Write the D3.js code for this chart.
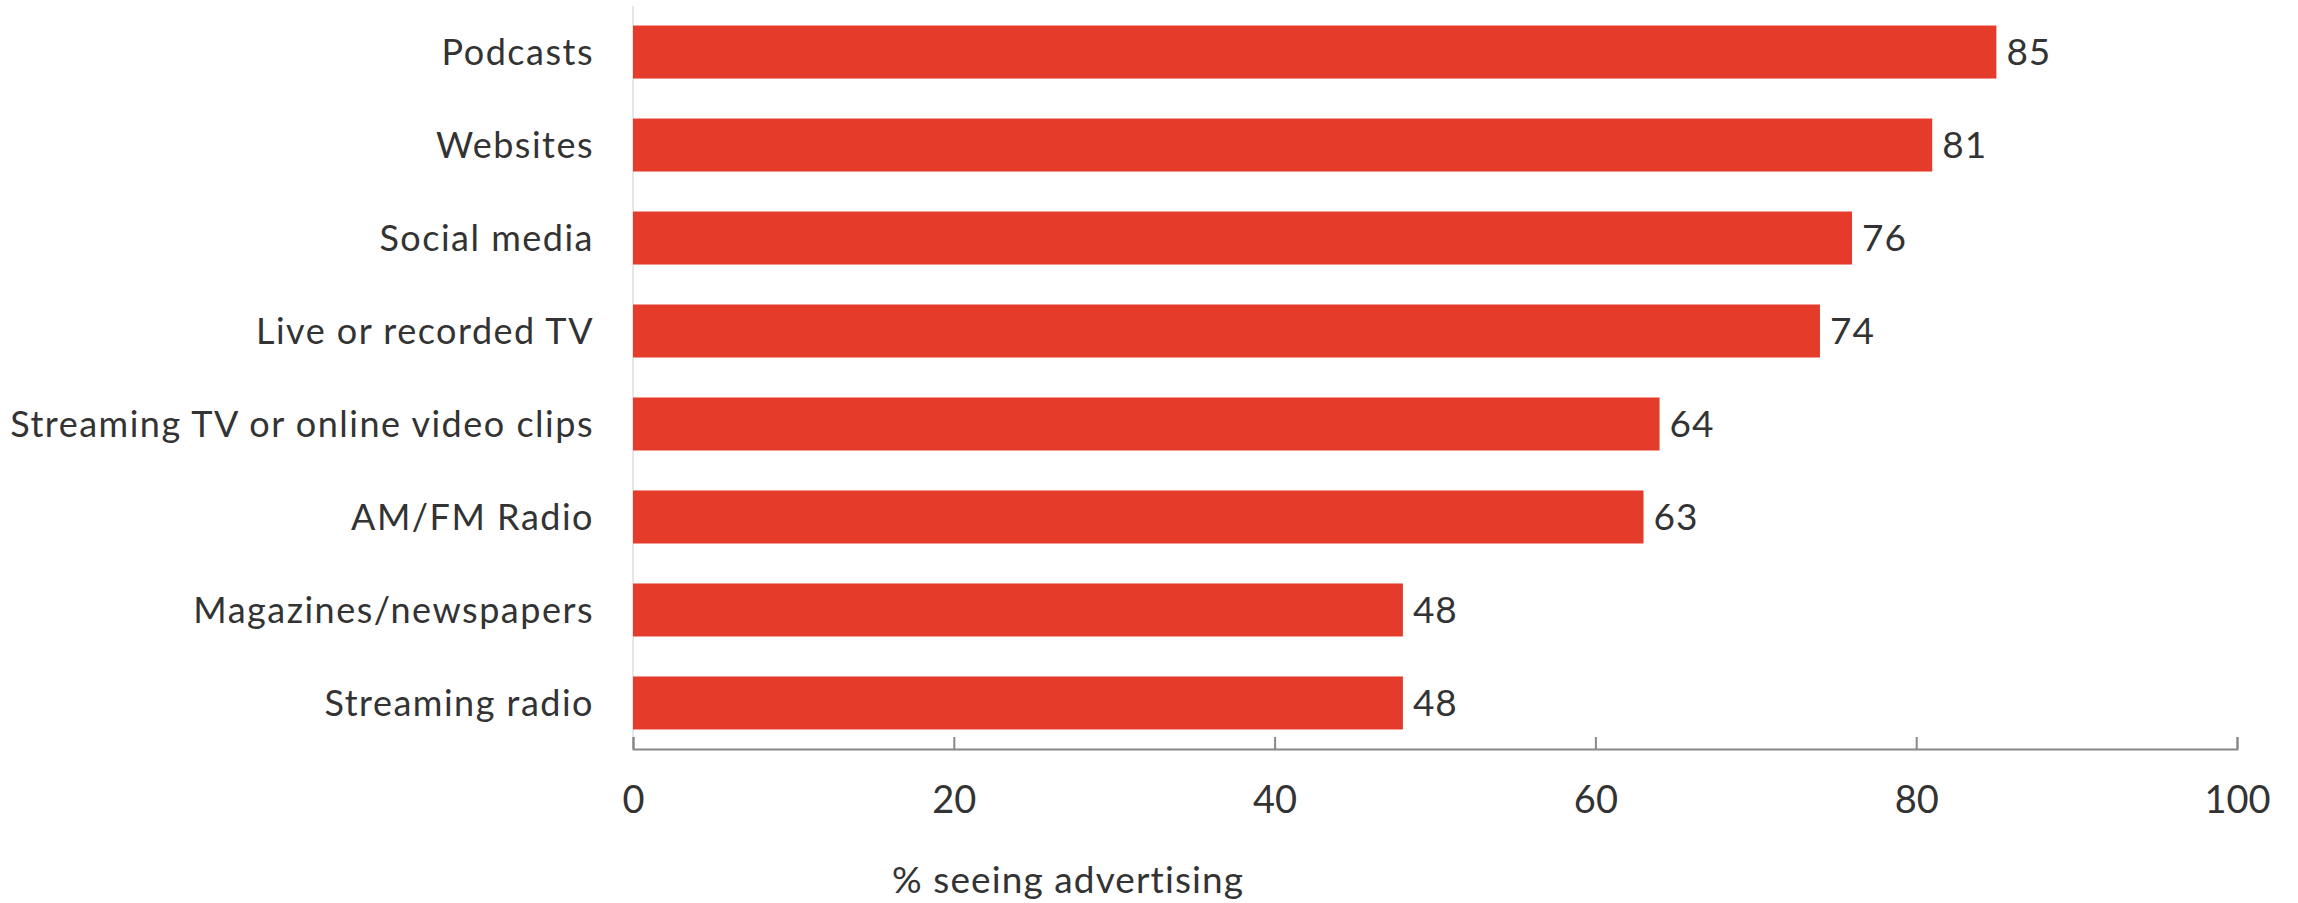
<!DOCTYPE html>
<html>
<head>
<meta charset="utf-8">
<script src="https://cdn.jsdelivr.net/npm/d3@7"></script>
<style>
  html, body { margin: 0; padding: 0; background: #fff; }
  svg text { font-family: Lato, "Noto Sans", sans-serif; fill: #333; }
</style>
</head>
<body>
<svg id="chart" width="2298" height="903"></svg>
<script>
// Share of listeners who report seeing advertising, by medium
const categories = [
  "Podcasts",
  "Websites",
  "Social media",
  "Live or recorded TV",
  "Streaming TV or online video clips",
  "AM/FM Radio",
  "Magazines/newspapers",
  "Streaming radio"
];
const values = [85, 81, 76, 74, 64, 63, 48, 48];
const xTicks = [0, 20, 40, 60, 80, 100];
const xTitle = "% seeing advertising";

const svg = d3.select("#chart");
const margin = { left: 633, right: 2298 - 2237, top: 6, bottom: 903 - 749 };
const W = 2298, H = 903;

const x = d3.scaleLinear().domain([0, 100]).range([margin.left, W - margin.right]);
const y = d3.scaleBand().domain(categories)
  .range([margin.top, H - margin.bottom])
  .paddingInner(0.43).paddingOuter(0.21);

// light vertical baseline at zero
svg.append("line")
  .attr("x1", x(0)).attr("x2", x(0))
  .attr("y1", margin.top).attr("y2", H - margin.bottom)
  .attr("stroke", "#e6e6e6").attr("stroke-width", 2);

// bars
svg.append("g").selectAll("rect").data(values).join("rect")
  .attr("x", x(0))
  .attr("y", (d, i) => y(categories[i]))
  .attr("width", d => x(d) - x(0))
  .attr("height", y.bandwidth())
  .attr("fill", "#e53b2b");

// value labels
svg.append("g").selectAll("text").data(values).join("text")
  .attr("x", d => x(d) + 10)
  .attr("y", (d, i) => y(categories[i]) + y.bandwidth() / 2)
  .attr("dy", "0.36em")
  .attr("font-size", 37)
  .attr("letter-spacing", 1)
  .text(d => d);

// category labels
svg.append("g").selectAll("text").data(categories).join("text")
  .attr("x", 594)
  .attr("y", d => y(d) + y.bandwidth() / 2)
  .attr("dy", "0.36em")
  .attr("text-anchor", "end")
  .attr("font-size", 36)
  .attr("letter-spacing", 1.5)
  .text(d => d);

// x axis
const xAxis = d3.axisBottom(x).tickValues(xTicks).tickSize(-12).tickPadding(0).tickFormat(d3.format("d"));
const gx = svg.append("g").attr("transform", `translate(0,${H - margin.bottom})`).call(xAxis);
gx.select(".domain").attr("stroke", "#888").attr("stroke-width", 2);
gx.selectAll(".tick line").attr("stroke", "#888").attr("stroke-width", 2);
gx.selectAll(".tick text")
  .attr("y", 64).attr("dy", 0)
  .attr("font-size", 38)
  .attr("font-family", "Lato, 'Noto Sans', sans-serif")
  .attr("fill", "#333");

svg.append("text")
  .attr("x", 892).attr("y", 893)
  .attr("font-size", 37)
  .attr("letter-spacing", 1.1)
  .text(xTitle);
</script>
</body>
</html>
